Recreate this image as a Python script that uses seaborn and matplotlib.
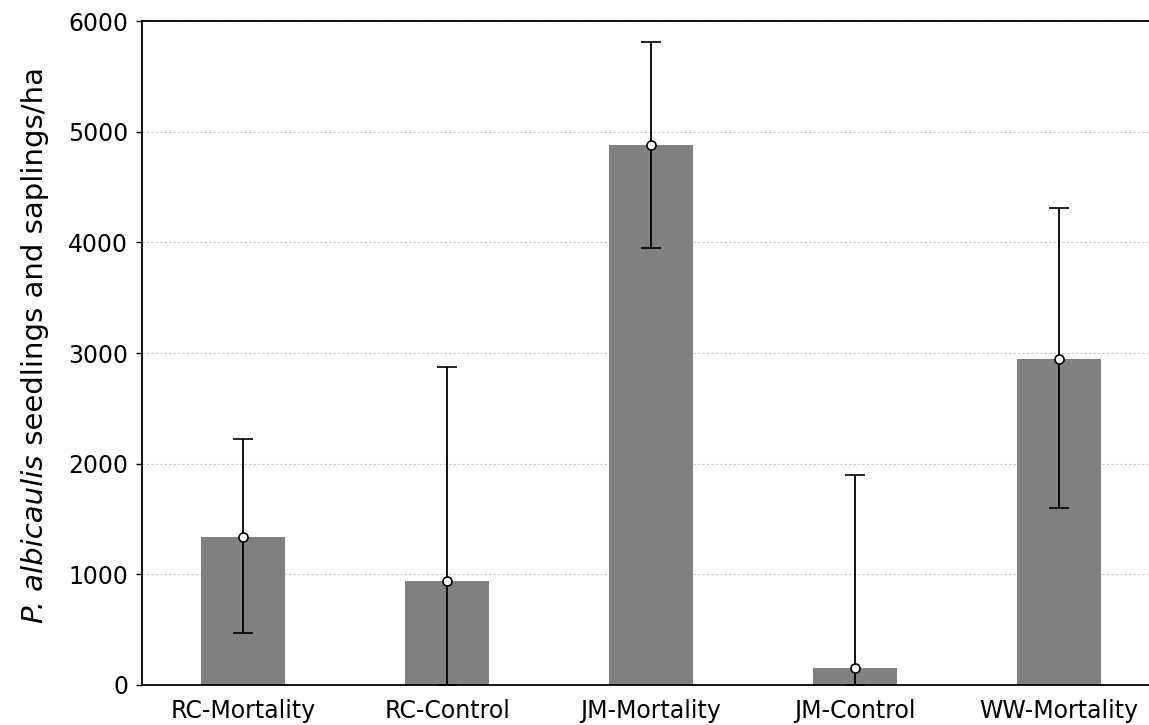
import matplotlib
matplotlib.use('Agg')
import matplotlib.pyplot as plt
import seaborn as sns
import pandas as pd
import numpy as np

# values
sites = ['RC-Mortality', 'RC-Control', 'JM-Mortality', 'JM-Control', 'WW-Mortality']
density = [1340, 940, 4880, 150, 2950]
upper = [2225, 2870, 5810, 1900, 4310]
lower = [466, 0, 3950, 0, 1600]

df = pd.DataFrame({'site': sites, 'density': density})

sns.set_style('white')
plt.rcParams['font.family'] = ['DejaVu Sans']
plt.rcParams['text.color'] = 'black'
plt.rcParams['axes.labelcolor'] = 'black'
plt.rcParams['xtick.color'] = 'black'
plt.rcParams['ytick.color'] = 'black'

fig = plt.figure(figsize=(11.49, 7.25), dpi=100)
ax = fig.add_axes([0.1236, 0.0552, 0.8764, 0.9158])

sns.barplot(data=df, x='site', y='density', color='#808080', saturation=1,
            width=0.41, linewidth=0, ax=ax)

# error bars with white markers at the mean
yerr = [np.array(density) - np.array(lower), np.array(upper) - np.array(density)]
ax.errorbar(np.arange(len(sites)), density, yerr=yerr, fmt='o', color='black',
            ecolor='black', elinewidth=1.3, capsize=7, capthick=1.5,
            markerfacecolor='white', markeredgecolor='black', markersize=6.5,
            markeredgewidth=1.2, zorder=5)

ax.set_ylim(0, 6000)
ax.set_xlim(-0.495, 4.44)
ax.set_yticks([0, 1000, 2000, 3000, 4000, 5000, 6000])
ax.yaxis.grid(True, linestyle=(0, (2, 2)), color='#c8c8c8', linewidth=0.8)
ax.set_axisbelow(True)
ax.set_xlabel('')
ax.set_ylabel('')

ax.tick_params(axis='y', labelsize=17, length=4, width=1, direction='out', left=True, pad=6)
ax.tick_params(axis='x', labelsize=17, length=0, pad=10)

for s in ['left', 'bottom', 'top']:
    ax.spines[s].set_visible(True)
    ax.spines[s].set_color('black')
    ax.spines[s].set_linewidth(1.3)
ax.spines['right'].set_visible(False)

# y label: italic species name, then upright text (placed in pixels)
x0, y0 = 35, 725 - 623
t1 = fig.text(x0 / 1149, y0 / 725, 'P. albicaulis', fontsize=21, style='italic',
              rotation=90, rotation_mode='anchor', ha='left', va='center')
fig.canvas.draw()
h = t1.get_window_extent().height
fig.text(x0 / 1149, (y0 + h) / 725, ' seedlings and saplings/ha', fontsize=21,
         rotation=90, rotation_mode='anchor', ha='left', va='center')

fig.savefig('out.png', dpi=100)
